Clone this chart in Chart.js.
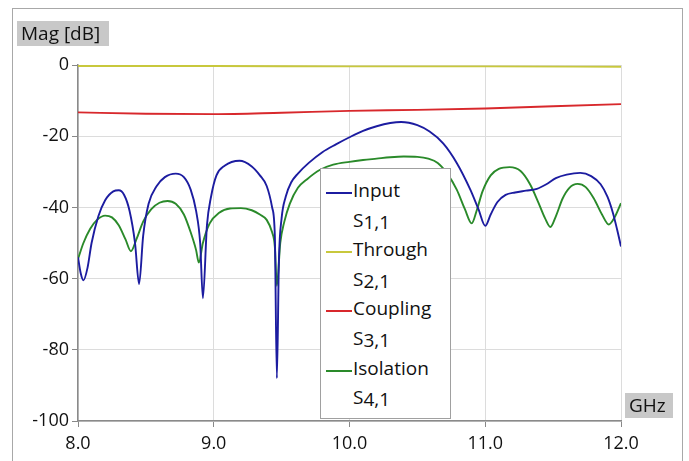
<!DOCTYPE html>
<html>
<head>
<meta charset="utf-8">
<script src="https://cdn.jsdelivr.net/npm/chart.js@4"></script>
<style>
  html, body { margin: 0; padding: 0; background: #fff; }
  #wrap { position: relative; width: 689px; height: 461px; overflow: hidden; font-family: "Open Sans", "Noto Sans", sans-serif; }
  #frame { position: absolute; left: 12px; top: 8px; width: 671px; height: 470px; border: 1px solid #a8a8a8; box-sizing: border-box; }
  canvas { position: absolute; left: 0; top: 0; }
  .tag { position: absolute; background: #c8c8c8; color: #111; font-size: 19px; line-height: 25px; padding: 0 4px; box-sizing: border-box; white-space: nowrap; }
  #legend { position: absolute; left: 320px; top: 168px; width: 131px; height: 251px; background: #fff; border: 1px solid #a0a0a0; box-sizing: border-box; }
  .lg-row { position: absolute; left: 0; height: 30px; font-size: 19px; color: #111; white-space: nowrap; }
  .lg-line { position: absolute; left: 5px; width: 26px; height: 2px; }
  .lg-text { position: absolute; left: 32px; line-height: 30px; }
  .sub { position: relative; top: 2px; }
</style>
</head>
<body>
<div id="wrap">
  <div id="frame"></div>
  <canvas id="c" width="689" height="461"></canvas>
  <div class="tag" id="ylab" style="left:17px; top:21px; width:92px; height:25px;"></div>
  <div class="tag" id="xlab" style="left:625px; top:393px; width:48px; height:25px;"></div>
  <div id="legend"></div>
</div>
<script>
// ---- Data ----
const yTitle = "Mag [dB]";
const xTitle = "GHz";
const xTicks = [8, 9, 10, 11, 12];
const yTicks = [0, -20, -40, -60, -80, -100];

const seriesNames = ["Input", "Through", "Coupling", "Isolation"];
const seriesSubs  = ["1,1", "2,1", "3,1", "4,1"];
const seriesColors = ["#1c1ca0", "#c8c83c", "#d8282c", "#2a8a2a"];

// Input S1,1
const inputFreq = [8.00,8.02,8.04,8.07,8.10,8.15,8.20,8.26,8.30,8.34,8.38,8.42,8.45,8.48,8.52,8.58,8.64,8.72,8.78,8.83,8.87,8.90,8.92,8.95,8.98,9.02,9.08,9.19,9.28,9.34,9.39,9.43,9.45,9.465,9.48,9.50,9.53,9.57,9.62,9.70,9.80,9.90,10.00,10.10,10.20,10.30,10.38,10.50,10.59,10.69,10.79,10.89,10.95,11.00,11.04,11.09,11.15,11.22,11.30,11.38,11.45,11.52,11.60,11.70,11.78,11.85,11.90,11.94,11.97,12.00];
const inputMag  = [-54,-58.5,-60.5,-57,-50,-42.5,-38,-35.5,-35.2,-36.5,-41,-50,-61.5,-48,-39,-34,-31.5,-30.5,-31.5,-35,-41,-50,-65.5,-45,-37,-31,-28.3,-26.9,-28.5,-31,-34,-40,-48,-88,-55,-43,-37,-33,-30.5,-27.5,-24.5,-22.3,-20.3,-18.5,-17.2,-16.3,-16,-16.9,-18.7,-22,-27.5,-35,-40.5,-45.2,-42,-38.5,-36.5,-35.8,-35.3,-34.8,-33.5,-31.8,-30.8,-30.3,-31.2,-33.5,-37,-41.5,-46,-51];

// Through S2,1
const throughFreq = [8, 9, 10, 11, 12];
const throughMag  = [-0.3, -0.3, -0.4, -0.4, -0.5];

// Coupling S3,1
const couplingFreq = [8.0, 8.5, 9.0, 9.5, 10.0, 10.5, 11.0, 11.5, 12.0];
const couplingMag  = [-13.3, -13.7, -13.8, -13.4, -12.9, -12.6, -12.2, -11.6, -11.0];

// Isolation S4,1
const isolationFreq = [8.00,8.04,8.09,8.14,8.20,8.25,8.30,8.35,8.39,8.43,8.48,8.54,8.60,8.66,8.72,8.78,8.83,8.87,8.89,8.92,8.97,9.04,9.12,9.20,9.28,9.34,9.39,9.43,9.45,9.465,9.49,9.52,9.56,9.62,9.69,9.78,9.88,10.00,10.10,10.20,10.30,10.40,10.50,10.58,10.65,10.72,10.79,10.85,10.90,10.94,10.98,11.04,11.10,11.18,11.26,11.33,11.39,11.44,11.48,11.52,11.57,11.62,11.68,11.74,11.80,11.86,11.91,11.95,12.00];
const isolationMag  = [-54.5,-50,-46,-43.5,-42.3,-42.8,-45,-49,-52.3,-49,-44,-40.5,-38.7,-38.2,-39,-42,-47,-52,-55.5,-50,-44.5,-41.5,-40.3,-40.2,-40.8,-42,-43.5,-47,-51,-62,-50,-44,-39,-34.5,-32,-29.5,-28,-27.2,-26.7,-26.3,-25.9,-25.7,-25.8,-26.3,-27.5,-30.5,-35,-40.5,-44.5,-40.5,-35.5,-31,-29.2,-28.7,-29.8,-33.5,-38.5,-43,-45.5,-42.5,-37.5,-34.5,-33.4,-34.3,-37.5,-42,-44.8,-43,-38.8];

const seriesFreq = [inputFreq, throughFreq, couplingFreq, isolationFreq];
const seriesMag  = [inputMag, throughMag, couplingMag, isolationMag];

// ---- Build chart ----
const FONT = { family: "'Open Sans', 'Noto Sans', sans-serif", size: 18 };

const datasets = seriesNames.map((name, i) => ({
  label: name + " S" + seriesSubs[i],
  data: seriesFreq[i].map((f, k) => ({ x: f, y: seriesMag[i][k] })),
  borderColor: seriesColors[i],
  borderWidth: 1.9,
  pointRadius: 0,
  fill: false,
  cubicInterpolationMode: "monotone"
}));

new Chart(document.getElementById("c"), {
  type: "line",
  data: { datasets },
  options: {
    responsive: false,
    animation: false,
    events: [],
    layout: { padding: { left: 0, right: 68, top: 65, bottom: 0 } },
    plugins: { legend: { display: false }, tooltip: { enabled: false } },
    scales: {
      x: {
        type: "linear",
        min: xTicks[0],
        max: xTicks[xTicks.length - 1],
        afterBuildTicks: (s) => { s.ticks = xTicks.map(v => ({ value: v })); },
        afterFit: (s) => { s.height = 40; },
        ticks: { font: FONT, color: "#111", padding: 6, maxRotation: 0, callback: (v) => Number(v).toFixed(1) },
        grid: { color: "#dcdcdc", lineWidth: 1, tickLength: 6, tickColor: "#888" },
        border: { display: true, color: "#8a8a8a", width: 1.5 }
      },
      y: {
        type: "linear",
        min: yTicks[yTicks.length - 1],
        max: yTicks[0],
        afterBuildTicks: (s) => { s.ticks = yTicks.slice().reverse().map(v => ({ value: v })); },
        afterFit: (s) => { s.width = 78; },
        ticks: { font: FONT, color: "#111", padding: 3, callback: (v) => String(v) },
        grid: { color: "#dcdcdc", lineWidth: 1, tickLength: 6, tickColor: "#888" },
        border: { display: true, color: "#8a8a8a", width: 1.5 }
      }
    }
  }
});

// ---- Axis title tags ----
document.getElementById("ylab").textContent = yTitle;
document.getElementById("xlab").textContent = xTitle;

// ---- Legend ----
const legend = document.getElementById("legend");
const rowH = 29.6;
seriesNames.forEach((name, i) => {
  const r1 = document.createElement("div");
  r1.className = "lg-row";
  r1.style.top = (6 + i * 2 * rowH) + "px";
  r1.innerHTML = '<div class="lg-line" style="top:17px;background:' + seriesColors[i] + '"></div><div class="lg-text">' + name + '</div>';
  legend.appendChild(r1);
  const r2 = document.createElement("div");
  r2.className = "lg-row";
  r2.style.top = (6 + (i * 2 + 1) * rowH) + "px";
  r2.innerHTML = '<div class="lg-text">S<span class="sub">' + seriesSubs[i] + '</span></div>';
  legend.appendChild(r2);
});
</script>
</body>
</html>
